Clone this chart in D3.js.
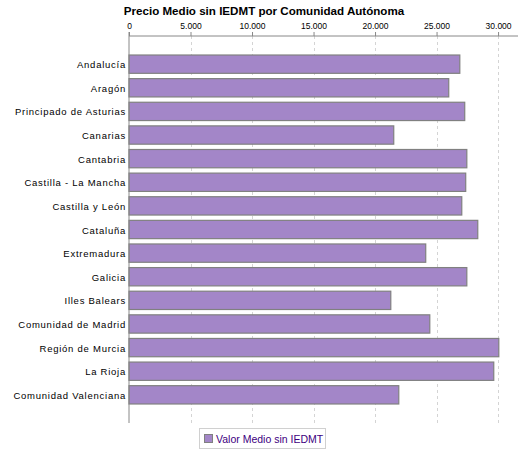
<!DOCTYPE html>
<html>
<head>
<meta charset="utf-8">
<script src="https://cdn.jsdelivr.net/npm/d3@7"></script>
<style>
  html, body { margin: 0; padding: 0; background: #fff; }
  svg { display: block; font-family: "Liberation Sans", Arial, sans-serif; }
</style>
</head>
<body>
<svg id="chart" width="525" height="450"></svg>
<script>
const title = "Precio Medio sin IEDMT por Comunidad Autónoma";
const seriesName = "Valor Medio sin IEDMT";
const categories = [
  "Andalucía", "Aragón", "Principado de Asturias", "Canarias", "Cantabria",
  "Castilla - La Mancha", "Castilla y León", "Cataluña", "Extremadura", "Galicia",
  "Illes Balears", "Comunidad de Madrid", "Región de Murcia", "La Rioja", "Comunidad Valenciana"
];
const values = [
  26890, 25990, 27290, 21520, 27460,
  27370, 27050, 28350, 24120, 27460,
  21280, 24450, 30060, 29650, 21930
];
const tickValues = [0, 5000, 10000, 15000, 20000, 25000, 30000];

(function () {
const svg = d3.select("#chart");
const pLeft = 129, pRight = 518, pTop = 36, pBottom = 423;

const x = d3.scaleLinear().domain([0, 31620]).range([pLeft, pRight]);
const y = d3.scaleBand().domain(categories).range([pTop, pBottom])
  .paddingInner(0.225).paddingOuter(0.805);

const esLocale = d3.formatLocale({ decimal: ",", thousands: ".", grouping: [3], currency: ["", " €"] });
const fmt = esLocale.format(",d");

// gridlines
svg.append("g").selectAll("line")
  .data(tickValues.filter(d => d > 0))
  .join("line")
  .attr("x1", d => Math.round(x(d)) + 0.5).attr("x2", d => Math.round(x(d)) + 0.5)
  .attr("y1", pTop).attr("y2", pBottom)
  .attr("stroke", "#d4d4d4").attr("stroke-width", 1)
  .attr("stroke-dasharray", "3,3");

// bars
svg.append("g").selectAll("rect")
  .data(categories)
  .join("rect")
  .attr("x", x(0))
  .attr("y", d => y(d))
  .attr("width", (d, i) => x(values[i]) - x(0))
  .attr("height", y.bandwidth())
  .attr("fill", "#a386c8")
  .attr("stroke", "#808080")
  .attr("stroke-width", 1.2);

// top axis
const xAxis = d3.axisTop(x).tickValues(tickValues).tickFormat(fmt).tickSize(4).tickPadding(3);
const gx = svg.append("g").attr("transform", `translate(0,${pTop})`).call(xAxis);
gx.select(".domain").attr("stroke", "#888").attr("d", `M${pLeft},0H${pRight}`);
gx.selectAll(".tick line").attr("stroke", "#888");
gx.selectAll(".tick text").attr("fill", "#000").style("font-size", "8.5px")
  .style("font-family", "'Liberation Sans', Arial, sans-serif");

// left axis
const yAxis = d3.axisLeft(y).tickSize(0).tickPadding(3);
const gy = svg.append("g").attr("transform", `translate(${pLeft},0)`).call(yAxis);
gy.select(".domain").attr("stroke", "#888").attr("d", `M0,${pTop - 4}V${pBottom}`);
gy.selectAll(".tick text").attr("fill", "#000").style("font-size", "9.5px")
  .style("letter-spacing", "0.75px")
  .style("font-family", "'Liberation Sans', Arial, sans-serif")
  .attr("dy", "0.42em");

// title
svg.append("text")
  .attr("x", 264).attr("y", 15)
  .attr("text-anchor", "middle")
  .style("font-size", "11.6px").style("font-weight", "bold")
  .attr("fill", "#000")
  .text(title);

// legend
const lg = svg.append("g");
lg.append("rect").attr("x", 199.5).attr("y", 428.5).attr("width", 126).attr("height", 20)
  .attr("fill", "#fff").attr("stroke", "#d0d0d0");
lg.append("rect").attr("x", 204.5).attr("y", 434.5).attr("width", 8).attr("height", 8)
  .attr("fill", "#a386c8").attr("stroke", "#808080");
lg.append("text").attr("x", 216).attr("y", 442.5)
  .style("font-size", "10.5px").attr("fill", "#400080")
  .text(seriesName);
})();
</script>
</body>
</html>
